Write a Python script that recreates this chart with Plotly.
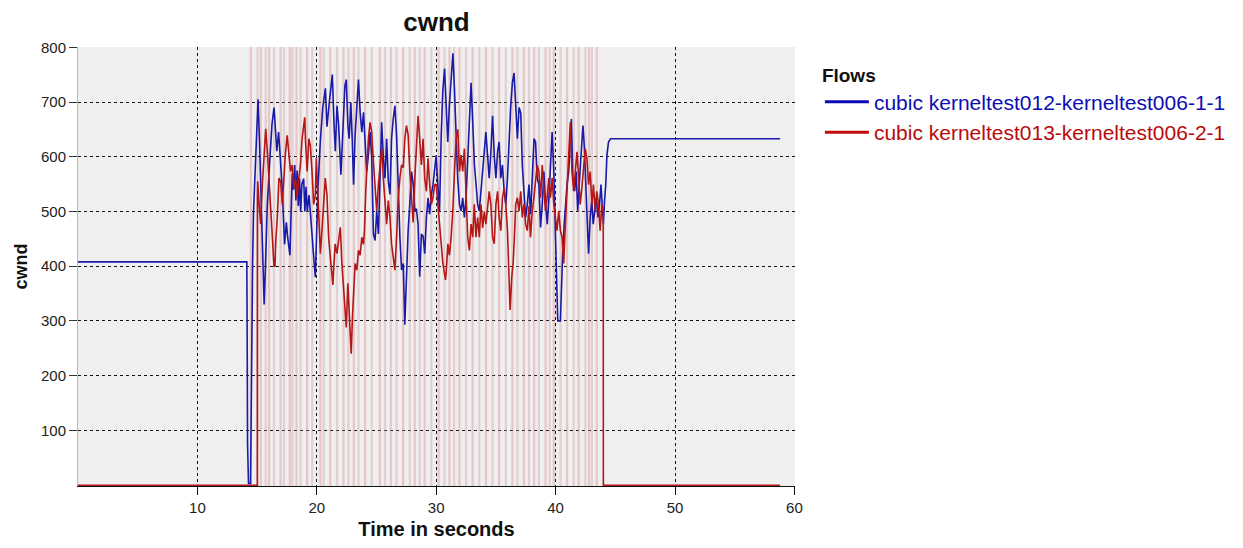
import plotly.graph_objects as go

# ---------------- data ----------------
blue_t = [0, 14.14, 14.17, 14.2, 14.28, 14.45, 14.5, 14.58, 14.62,
          14.7, 14.85, 14.95, 15.08, 15.2, 15.3, 15.4, 15.5, 15.59, 15.7, 15.85, 16.05, 16.25, 16.42,
          16.55, 16.65, 16.8, 16.95, 17.1, 17.3, 17.45, 17.55, 17.75, 17.85, 17.95, 18.05, 18.15, 18.25,
          18.35, 18.45, 18.55, 18.65, 18.75, 18.9, 19.0, 19.1, 19.2, 19.35, 19.5, 19.65, 19.8, 19.88,
          19.95, 20.1, 20.3, 20.5, 20.72, 20.85, 21.05, 21.3, 21.45,
          21.55, 21.69, 21.83, 22.02, 22.15, 22.24, 22.35, 22.47, 22.6, 22.71, 22.85, 22.97, 23.08, 23.21,
          23.35, 23.49, 23.63, 23.77, 23.91, 24.05, 24.18, 24.32, 24.46, 24.6, 24.74, 24.88, 25.02, 25.16,
          25.29, 25.43, 25.57, 25.71, 25.85, 25.99, 26.13, 26.26, 26.4, 26.54, 26.68, 26.82, 26.96, 27.1,
          27.24, 27.37, 27.51, 27.65, 27.79, 27.93, 28.07, 28.21, 28.34, 28.48, 28.62, 28.76, 28.9, 29.04,
          29.18, 29.32,
          29.45, 29.59, 29.73, 29.87, 30.0, 30.1, 30.2, 30.28, 30.42, 30.55, 30.7, 30.83, 30.97, 31.1,
          31.25, 31.4, 31.53, 31.67, 31.8, 31.95, 32.09, 32.22, 32.36, 32.5, 32.64, 32.78, 32.92, 33.06,
          33.2, 33.34, 33.47, 33.61, 33.75, 33.89, 34.03, 34.16, 34.3, 34.44, 34.58, 34.72, 34.86, 35.0,
          35.14, 35.27, 35.41, 35.55, 35.69, 35.83, 35.97, 36.1, 36.24, 36.38, 36.52, 36.66, 36.8, 36.94,
          37.08, 37.21, 37.35, 37.49, 37.63, 37.77, 37.91, 38.05, 38.19, 38.32, 38.46, 38.6, 38.74, 38.88,
          39.02, 39.16, 39.3, 39.44, 39.57, 39.71, 39.85, 40.0, 40.13, 40.18, 40.4, 40.5, 40.6, 40.72,
          40.82, 40.96, 41.1, 41.18, 41.32, 41.45, 41.6, 41.72, 41.85, 41.98, 42.12, 42.29, 42.4, 42.5,
          42.6, 42.76, 42.9, 43.03, 43.15, 43.28, 43.4, 43.55, 43.68, 43.8, 43.92, 44.0, 44.1, 44.2,
          44.3, 44.43, 44.6, 58.8]
blue_v = [408, 408, 264, 76, 3, 3, 117, 350, 400,
          500, 570, 640, 705, 630, 540, 470, 400, 330, 400, 510, 590, 660, 690,
          640, 610, 645, 600, 545, 440, 480, 455, 420, 500, 570, 540, 585, 520,
          575, 510, 560, 500, 550, 560, 500, 545, 500, 530, 480, 440, 400, 380,
          440, 545, 630, 690, 725, 655, 700, 750, 655,
          610, 693, 657, 567, 640, 693, 729, 741, 657, 633, 699, 630, 549, 640,
          705, 741, 681, 645, 681, 633, 573, 603, 645, 600, 459, 447, 501, 459,
          543, 663, 600, 561, 633, 555, 531, 633, 669, 693, 640, 543, 453, 393,
          405, 293, 393, 465, 513, 573, 550, 501, 505, 477, 381, 459, 455, 423,
          489, 525,
          495, 530, 549, 585, 603, 560, 520, 501, 639, 720, 761, 693, 627, 693,
          753, 789, 723, 645, 561, 513, 501, 525, 489, 525, 597, 669, 735, 663,
          585, 549, 513, 501, 543, 585, 610, 645, 597, 561, 609, 675, 603, 561,
          609, 627, 561, 585, 537, 513, 561, 633, 693, 735, 753, 693, 633, 690,
          680, 585, 537, 489, 513, 549, 495, 573, 633, 627, 561, 549, 471, 513,
          573, 513, 477, 525, 573, 645, 573, 453, 333, 300, 300, 393, 429, 477,
          513, 549, 573, 615, 669, 561, 537, 573, 501, 550, 597, 657, 620, 560,
          513, 423, 490, 520, 477, 500, 525, 489, 513, 549, 500, 477, 520, 549,
          603, 627, 633, 633]

red_t = [0, 15.02, 15.03, 15.05, 15.17, 15.3, 15.44, 15.58, 15.72, 15.86, 16.0, 16.14, 16.28, 16.41,
         16.5, 16.55, 16.69, 16.83, 16.97, 17.11, 17.25, 17.38, 17.52, 17.66, 17.8, 17.94, 18.08, 18.22,
         18.35, 18.49, 18.63, 18.77, 18.99, 19.05, 19.19, 19.33, 19.46, 19.6, 19.74, 19.88, 19.96, 20.07,
         20.18, 20.3, 20.43, 20.57, 20.71, 20.85, 20.99, 21.13, 21.35, 21.4, 21.54,
         21.69, 21.83, 21.97, 22.1, 22.24, 22.38, 22.47, 22.6, 22.71, 22.8, 22.88, 22.99, 23.08, 23.21,
         23.35, 23.49, 23.63, 23.77, 23.91, 23.99, 24.1, 24.21, 24.32, 24.46, 24.6, 24.74, 24.88, 25.02,
         25.16, 25.29, 25.43, 25.57, 25.71, 25.85, 25.99, 26.13, 26.26, 26.4, 26.54, 26.68, 26.82, 26.96,
         27.1, 27.24, 27.37, 27.51, 27.65, 27.79, 27.93, 28.07, 28.21, 28.34, 28.48, 28.62, 28.76, 28.9,
         29.04, 29.18, 29.32, 29.45, 29.59, 29.73, 29.87,
         30.0, 30.14, 30.28, 30.42, 30.56, 30.78, 30.84, 30.98, 31.11, 31.25, 31.39, 31.53, 31.67, 31.81,
         31.95, 32.08, 32.22, 32.36, 32.5, 32.64, 32.78, 32.92, 33.06, 33.19, 33.33, 33.47, 33.61, 33.75,
         33.89, 34.03, 34.16, 34.3, 34.44, 34.58, 34.72, 34.86, 35.0, 35.14, 35.27, 35.41, 35.55, 35.69,
         35.83, 35.97, 36.1, 36.19, 36.33, 36.44, 36.55, 36.66, 36.8, 36.94, 37.08, 37.21, 37.35,
         37.49, 37.63, 37.77, 37.9, 38.04, 38.18, 38.32, 38.46, 38.6, 38.74, 38.88, 39.01, 39.15, 39.29,
         39.43, 39.57, 39.71, 39.85, 39.98, 40.12, 40.26, 40.4, 40.54, 40.68, 40.82, 40.96, 41.09, 41.23,
         41.37, 41.51, 41.65, 41.79, 41.93, 42.06, 42.2, 42.34, 42.48, 42.62, 42.76, 42.9, 43.04, 43.17,
         43.31, 43.45, 43.59, 43.73, 43.87, 43.99, 44.0, 58.8]
red_v = [0, 0, 525, 555, 513, 477, 549, 597, 651, 609, 561, 520, 453, 400,
         400, 440, 489, 561, 555, 513, 573, 609, 639, 600, 573, 585, 543, 560,
         525, 560, 585, 633, 672, 630, 573, 633, 620, 573, 513, 531, 597, 540,
         489, 423, 465, 525, 561, 530, 453, 417, 366, 390, 441,
         423, 453, 471, 405, 360, 300, 288, 369, 309, 276, 240, 309, 351, 405,
         393, 429, 420, 453, 440, 465, 537, 585, 633, 663, 645, 591, 537, 501,
         549, 585, 615, 561, 513, 477, 520, 489, 441, 417, 393, 453, 525, 561,
         585, 580, 633, 657, 640, 573, 513, 480, 561, 621, 675, 633, 585, 633,
         560, 537, 597, 550, 513, 525, 549,
         549, 513, 477, 441, 405, 375, 390, 441, 420, 453, 501, 573, 633, 650,
         573, 603, 573, 615, 525, 453, 429, 477, 453, 513, 453, 489, 453, 513,
         470, 500, 477, 513, 537, 513, 453, 441, 513, 537, 489, 465, 525, 543,
         513, 465, 393, 320, 381, 405, 453, 513, 525, 501, 537, 489, 513,
         477, 465, 510, 453, 500, 525, 561, 585, 573, 525, 585, 549, 501, 525,
         561, 525, 561, 513, 489, 465, 501, 465, 453, 405, 477, 549, 621, 663,
         573, 537, 573, 609, 561, 513, 543, 585, 615, 597, 549, 573, 513, 549,
         501, 537, 513, 465, 513, 501, 0, 0]

# loss-event markers (seconds)
loss_a = [14.48, 15.31, 16.0, 16.97, 17.74, 18.3, 19.19, 20.3, 21.13, 22.24, 23.1, 24.04, 25.29,
          26.2, 27.23, 28.2, 29.03, 30.2, 31.11, 31.95, 33.05, 34.17, 35.27, 36.38, 37.35, 38.2,
          39.16, 39.85, 40.96, 41.93, 42.8, 43.45]
loss_b = [15.03, 15.72, 16.41, 17.25, 17.95, 18.64, 19.61, 20.57, 21.69, 22.65, 23.49, 24.6,
          25.71, 26.68, 27.79, 28.62, 29.59, 30.7, 31.5, 32.5, 33.61, 34.72, 35.83, 36.8, 37.77,
          38.6, 39.5, 40.41, 41.51, 42.49, 43.04]

x_ticks = [10, 20, 30, 40, 50, 60]
y_ticks = [100, 200, 300, 400, 500, 600, 700, 800]
x_range = [0, 60.05]
y_range = [-1.5, 800.5]

name_blue = "cubic kerneltest012-kerneltest006-1-1"
name_red = "cubic kerneltest013-kerneltest006-2-1"

FONT = "Liberation Sans, Arial, sans-serif"


def vlines(ts):
    xs, ys = [], []
    for t in ts:
        xs += [t, t, None]
        ys += [y_range[0], y_range[1], None]
    return xs, ys


fig = go.Figure()
xa, ya = vlines(loss_a)
fig.add_trace(go.Scatter(x=xa, y=ya, mode="lines", showlegend=False, hoverinfo="skip",
                         line=dict(color="rgba(222,140,140,0.42)", width=2.2)))
xb, yb = vlines(loss_b)
fig.add_trace(go.Scatter(x=xb, y=yb, mode="lines", showlegend=False, hoverinfo="skip",
                         line=dict(color="rgba(205,160,170,0.40)", width=2.2)))

fig.add_trace(go.Scatter(x=blue_t, y=blue_v, mode="lines", showlegend=False,
                         line=dict(color="#1a1aa8", width=1.6)))
fig.add_trace(go.Scatter(x=red_t, y=red_v, mode="lines", showlegend=False,
                         line=dict(color="#b51616", width=1.6)))

# legend entries (legend-only, thicker key lines as in the original)
fig.add_trace(go.Scatter(x=[None], y=[None], mode="lines", legend="legend",
                         name="<span style='color:#0d0db4'>" + name_blue + "</span>",
                         line=dict(color="#0a0ab4", width=3)))
fig.add_trace(go.Scatter(x=[None], y=[None], mode="lines", legend="legend2",
                         name="<span style='color:#b80a0a'>" + name_red + "</span>",
                         line=dict(color="#c00a0a", width=3)))

fig.update_layout(
    width=1235, height=540,
    margin=dict(l=68, r=446, t=39, b=56),
    paper_bgcolor="white",
    plot_bgcolor="#efefef",
    font=dict(family=FONT, color="#111"),
    title=dict(text="<b>cwnd</b>", x=0.5, xref="paper", xanchor="center",
               y=1 - 14 / 540, yref="container", yanchor="middle",
               font=dict(size=26, family=FONT, color="#111")),
    showlegend=True,
    legend=dict(x=1.0347, xanchor="left", y=0.9775, yanchor="top",
                title=dict(text="<b>Flows</b>", font=dict(size=19, family=FONT, color="#111")),
                font=dict(size=21, family=FONT), bgcolor="rgba(255,255,255,0)",
                itemwidth=44, tracegroupgap=0),
    legend2=dict(x=1.0347, xanchor="left", y=0.8517, yanchor="top",
                 font=dict(size=21, family=FONT), bgcolor="rgba(255,255,255,0)",
                 itemwidth=44, tracegroupgap=0),
    xaxis=dict(range=x_range, tickvals=x_ticks, showgrid=True, gridcolor="#111",
               griddash="dot", gridwidth=1, zeroline=False, layer="below traces",
               ticks="outside", ticklen=8, tickcolor="#111", showline=True,
               linecolor="#111", linewidth=1,
               tickfont=dict(size=15, color="#222"),
               title=dict(text="<b>Time in seconds</b>", font=dict(size=20, color="#111"),
                          standoff=6)),
    yaxis=dict(range=y_range, tickvals=y_ticks, showgrid=True, gridcolor="#111",
               griddash="dot", gridwidth=1, zeroline=False, layer="below traces",
               ticks="outside", ticklen=8, tickcolor="#333", showline=True,
               linecolor="#bbbbbb", linewidth=1,
               tickfont=dict(size=15, color="#222"),
               title=dict(text="<b>cwnd</b>", font=dict(size=18, color="#111"),
                          standoff=8)),
)

fig.write_html("out.html")
